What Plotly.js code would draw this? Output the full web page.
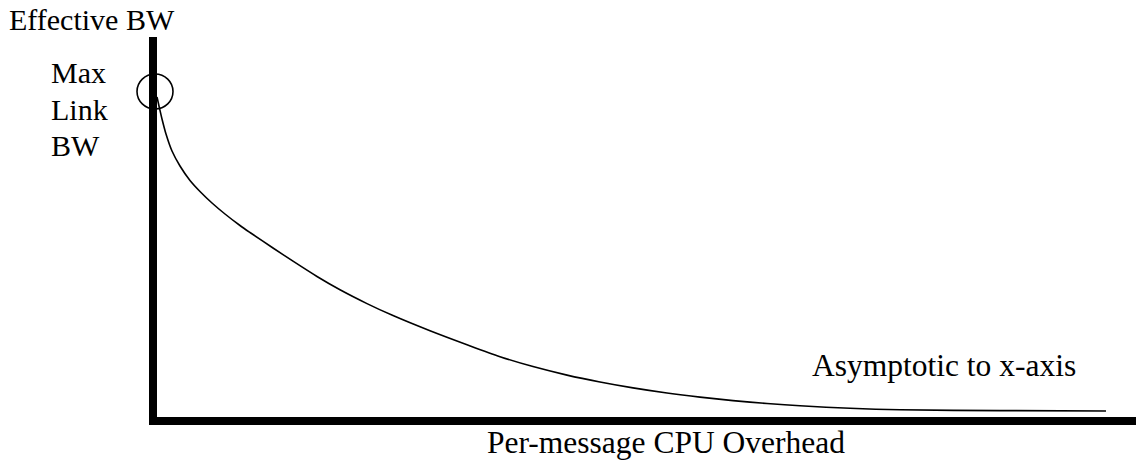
<!DOCTYPE html>
<html>
<head>
<meta charset="utf-8">
<script src="https://cdn.plot.ly/plotly-3.0.1.min.js"></script>
<style>html,body{margin:0;padding:0;background:#fff;}#chart{width:1136px;height:461px;}</style>
</head>
<body>
<div id="chart"></div>
<script>
// Per-message CPU overhead (arbitrary units) and effective bandwidth (arbitrary units)
const overhead = [4, 6, 9, 13, 19, 27, 37, 47, 59, 72, 87, 97, 120, 140, 164, 187, 214, 240, 277, 314, 347, 380, 414, 447, 480, 514, 547, 580, 614, 647, 697, 747, 847, 953];
const effectiveBW = [324, 315, 302, 287, 270, 255, 240.5, 229.5, 218, 207, 195.5, 188.5, 173, 159.8, 144.5, 131.2, 117.4, 105.4, 90.2, 76.2, 64.3, 54.4, 45.9, 39, 33.1, 28, 23.9, 20.4, 17.5, 15.2, 12.7, 11.2, 10.4, 10];

const yAxisTitle = "Effective BW";
const xAxisTitle = "Per-message CPU Overhead";
const maxLabelLines = ["Max", "Link", "BW"];
const asymptoteNote = "Asymptotic to x-axis";

const W = 1136, H = 461;
const px = p => p / W;           // pixel -> paper x
const py = p => 1 - p / H;       // pixel -> paper y
const fam = '"Liberation Serif", "Times New Roman", serif';
const font = {family: fam, size: 30, color: '#000'};
const fontWide = {family: fam, size: 31.5, color: '#000'};

const annotations = [
  {text: yAxisTitle, x: px(7), y: py(19), xanchor: 'left', yanchor: 'middle', font: font},
  {text: maxLabelLines[0], x: px(49), y: py(73), xanchor: 'left', yanchor: 'middle', font: font},
  {text: maxLabelLines[1], x: px(49), y: py(109), xanchor: 'left', yanchor: 'middle', font: font},
  {text: maxLabelLines[2], x: px(49), y: py(146), xanchor: 'left', yanchor: 'middle', font: font},
  {text: asymptoteNote, x: px(810), y: py(365), xanchor: 'left', yanchor: 'middle', font: fontWide},
  {text: xAxisTitle, x: px(485), y: py(442), xanchor: 'left', yanchor: 'middle', font: fontWide}
].map(a => Object.assign({xref: 'paper', yref: 'paper', showarrow: false}, a));

const shapes = [
  // vertical axis bar
  {type: 'line', xref: 'x', yref: 'y', x0: 0, x1: 0, y0: -4, y1: 384, line: {color: '#000', width: 8}},
  // horizontal axis bar
  {type: 'line', xref: 'x', yref: 'y', x0: -4, x1: 990, y0: 0, y1: 0, line: {color: '#000', width: 8}},
  // circle marking Max Link BW
  {type: 'circle', xref: 'x', yref: 'y', x0: -16, x1: 20, y0: 312, y1: 347, line: {color: '#000', width: 1.6}}
];

const trace = {
  x: overhead, y: effectiveBW, type: 'scatter', mode: 'lines',
  line: {color: '#000', width: 1.6, shape: 'spline', smoothing: 0.8},
  hoverinfo: 'skip'
};

const layout = {
  width: W, height: H,
  margin: {l: 0, r: 0, t: 0, b: 0, pad: 0},
  paper_bgcolor: '#fff', plot_bgcolor: '#fff',
  showlegend: false,
  xaxis: {range: [-153, 983], visible: false, fixedrange: true},
  yaxis: {range: [-40, 421], visible: false, fixedrange: true},
  shapes: shapes,
  annotations: annotations
};

Plotly.newPlot('chart', [trace], layout, {staticPlot: true, displayModeBar: false});
</script>
</body>
</html>
